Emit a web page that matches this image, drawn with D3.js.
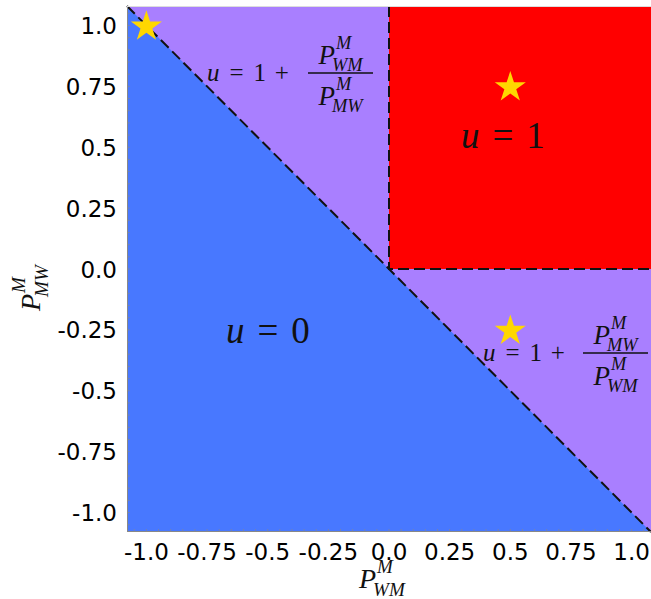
<!DOCTYPE html>
<html>
<head>
<meta charset="utf-8">
<script src="https://cdn.jsdelivr.net/npm/d3@7"></script>
<style>
  body { margin: 0; background: white; }
  svg { display: block; }
</style>
</head>
<body>
<div id="chart"></div>
<script>
'use strict';

// axis extent and ticks
var extent = [-1.08, 1.08];
var tickValues = [-1.0, -0.75, -0.5, -0.25, 0.0, 0.25, 0.5, 0.75, 1.0];
var tickLabels = ["-1.0", "-0.75", "-0.5", "-0.25", "0.0", "0.25", "0.5", "0.75", "1.0"];

// regions
var blueRegion = [[-1.08, 1.08], [1.08, -1.08], [-1.08, -1.08]];
var redRegion = [[0, 0], [1.08, 0], [1.08, 1.08], [0, 1.08]];
var diagonal = [[-1.08, 1.08], [1.08, -1.08]];
var redBorder = [[0, 1.08], [0, 0], [1.08, 0]];

// equilibrium stars
var stars = [[-1.0, 1.0], [0.5, 0.75], [0.5, -0.25]];

var W = 651, H = 599;
var L = 127, R = 651, T = 6, B = 532;

var svg = d3.select("#chart").append("svg")
    .attr("width", W).attr("height", H);

var x = d3.scaleLinear().domain(extent).range([L, R]);
var y = d3.scaleLinear().domain(extent).range([B, T]);

var line = d3.line().x(function(d){return x(d[0]);}).y(function(d){return y(d[1]);});

var BLUE = "#4878ff", PURPLE = "#a97fff", RED = "#ff0000", GOLD = "#ffd700";

// background (purple) region
svg.append("rect")
    .attr("x", L).attr("y", T)
    .attr("width", R - L).attr("height", B - T)
    .attr("fill", PURPLE);

svg.append("path").attr("d", line(blueRegion) + "Z").attr("fill", BLUE);
svg.append("path").attr("d", line(redRegion) + "Z").attr("fill", RED);

// dashed boundaries
svg.append("path").attr("d", line(diagonal))
    .attr("fill", "none").attr("stroke", "#111").attr("stroke-width", 2)
    .attr("stroke-dasharray", "11,5");
svg.append("path").attr("d", line(redBorder))
    .attr("fill", "none").attr("stroke", "#111").attr("stroke-width", 2)
    .attr("stroke-dasharray", "11,5");

// frame + minor ticks
var minor = d3.range(-1.05, 1.0751, 0.05);
var fr = svg.append("g").attr("stroke", "#888").attr("stroke-width", 1);
fr.append("line").attr("x1", L + 0.5).attr("y1", T).attr("x2", L + 0.5).attr("y2", B);
fr.append("line").attr("x1", L).attr("y1", B - 0.5).attr("x2", R).attr("y2", B - 0.5);
fr.append("line").attr("x1", L).attr("y1", T + 0.5).attr("x2", R).attr("y2", T + 0.5)
    .attr("stroke", "#ddd");
minor.forEach(function(v) {
    fr.append("line").attr("x1", x(v)).attr("x2", x(v)).attr("y1", B).attr("y2", B - 3).attr("stroke-opacity", 0.6);
    fr.append("line").attr("y1", y(v)).attr("y2", y(v)).attr("x1", L).attr("x2", L + 3).attr("stroke-opacity", 0.6);
});

// tick labels
var tickFont = "'DejaVu Sans', sans-serif";
svg.append("g").selectAll("text").data(tickValues).enter().append("text")
    .attr("x", function(d){return x(d);}).attr("y", 560)
    .attr("text-anchor", "middle")
    .attr("font-family", tickFont).attr("font-size", 23)
    .text(function(d, i){return tickLabels[i];});
svg.append("g").selectAll("text").data(tickValues).enter().append("text")
    .attr("x", 117).attr("y", function(d){return y(d) + 8.5;})
    .attr("text-anchor", "end")
    .attr("font-family", tickFont).attr("font-size", 23)
    .text(function(d, i){return tickLabels[i];});

// stars
svg.append("g").selectAll("path").data(stars).enter().append("path")
    .attr("d", d3.symbol(d3.symbolStar, 300))
    .attr("transform", function(d){return "translate(" + x(d[0]) + "," + (y(d[1]) + 1) + ")";})
    .attr("fill", GOLD);

// ---- math text helpers ----
var mathFont = "'Liberation Serif', 'Times New Roman', serif";

function txt(g, s, px, py, size, italic) {
    return g.append("text").text(s)
        .attr("x", px).attr("y", py)
        .attr("font-family", mathFont).attr("font-size", size)
        .attr("font-style", italic ? "italic" : "normal")
        .attr("fill", "#111");
}

// row of pieces with TeX-like gaps (em), returns width
function mathRow(g, px, py, size, pieces) {
    var cx = px;
    pieces.forEach(function(p) {
        cx += (p.pre || 0) * size;
        var t = txt(g, p.t, cx, py, size, p.i);
        cx += t.node().getComputedTextLength() + (p.post || 0) * size;
    });
    return cx - px;
}

// P with super and subscript, returns width
function pScript(g, px, py, size, sup, sub) {
    var p = txt(g, "P", px, py, size, true);
    var w = p.node().getComputedTextLength();
    var s1 = txt(g, sup, px + w + 1, py - 0.55 * size, size * 0.68, true);
    var s2 = txt(g, sub, px + w - 3, py + 0.27 * size, size * 0.68, true);
    return w + Math.max(s1.node().getComputedTextLength() + 1, s2.node().getComputedTextLength() - 3);
}

// fraction of two P terms, bar starts at px, bar at barY
function pFrac(g, px, barY, size, num, den, barW) {
    var gn = g.append("g"), gd = g.append("g");
    var wn = pScript(gn, 0, 0, size, num[0], num[1]);
    var wd = pScript(gd, 0, 0, size, den[0], den[1]);
    gn.attr("transform", "translate(" + (px + (barW - wn) / 2) + "," + (barY - 9) + ")");
    gd.attr("transform", "translate(" + (px + (barW - wd) / 2) + "," + (barY + 32) + ")");
    g.append("line").attr("x1", px).attr("x2", px + barW)
        .attr("y1", barY).attr("y2", barY)
        .attr("stroke", "#111").attr("stroke-width", 1.3);
}

var uPlus = [
    {t: "u", i: true, post: 0.4},
    {t: "=", post: 0.4},
    {t: "1", post: 0.35},
    {t: "+"}
];

// top-left formula
var g1 = svg.append("g");
mathRow(g1, 207, 81, 25, uPlus);
pFrac(g1, 308, 73, 27, ["M", "WM"], ["M", "MW"], 65);

// bottom-right formula
var g2 = svg.append("g");
mathRow(g2, 483, 361, 25, uPlus);
pFrac(g2, 583, 353, 27, ["M", "MW"], ["M", "WM"], 65);

// region labels
mathRow(svg.append("g"), 226, 343, 37, [
    {t: "u", i: true, post: 0.35}, {t: "=", post: 0.35}, {t: "0"}
]);
mathRow(svg.append("g"), 461, 148, 37, [
    {t: "u", i: true, post: 0.35}, {t: "=", post: 0.35}, {t: "1"}
]);

// axis labels
pScript(svg.append("g"), 359, 588, 28, "M", "WM");
var gy = svg.append("g").attr("transform", "translate(40,311) rotate(-90)");
pScript(gy, 0, 0, 28, "M", "MW");
</script>
</body>
</html>
